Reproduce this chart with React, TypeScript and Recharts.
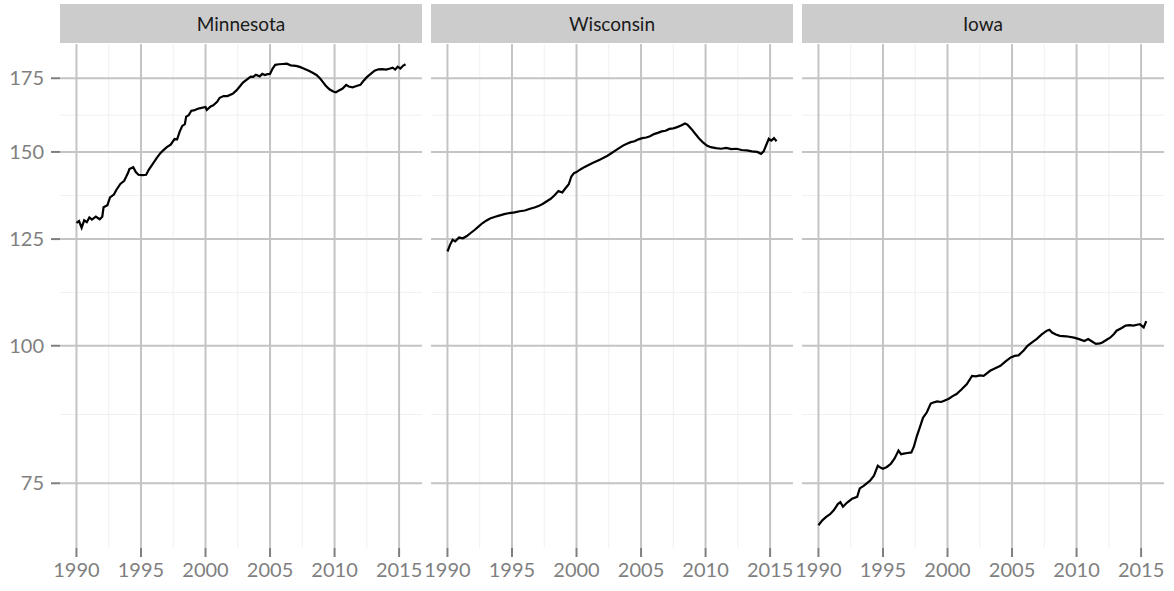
import React from "react";
import { LineChart, Line, XAxis, YAxis, ReferenceLine } from "recharts";

// values (employment index, log y scale)
const mnYears = [
  1990.0, 1990.2, 1990.4, 1990.6, 1990.8, 1991.0, 1991.2, 1991.5, 1991.8, 1992.0, 1992.1, 1992.4, 1992.6, 1992.9,
  1993.1, 1993.4, 1993.7, 1994.0, 1994.1, 1994.4, 1994.6, 1994.8, 1995.1, 1995.4, 1995.6, 1995.9, 1996.2, 1996.5,
  1996.7, 1997.0, 1997.3, 1997.6, 1997.8, 1998.0, 1998.2, 1998.4, 1998.5, 1998.7, 1998.9, 1999.1, 1999.4, 1999.7,
  2000.0, 2000.1, 2000.4, 2000.6, 2000.9, 2001.1, 2001.4, 2001.7, 2002.1, 2002.4, 2002.7, 2002.9, 2003.2, 2003.5,
  2003.7, 2003.9, 2004.2, 2004.4, 2004.6, 2004.8, 2005.0, 2005.2, 2005.4, 2005.7, 2006.0, 2006.3, 2006.6, 2007.0,
  2007.3, 2007.6, 2008.0, 2008.3, 2008.6, 2008.9, 2009.1, 2009.3, 2009.6, 2009.9, 2010.1, 2010.3, 2010.6, 2010.9,
  2011.1, 2011.4, 2011.7, 2012.0, 2012.2, 2012.5, 2012.8, 2013.1, 2013.4, 2013.7, 2014.0, 2014.3, 2014.5, 2014.7,
  2014.9, 2015.1, 2015.3, 2015.5,
];
const mnValues = [
  129.3, 129.8, 128.0, 130.0, 129.5, 130.8, 130.2, 131.0, 130.3, 131.0, 133.6, 134.2, 136.4, 137.2,
  138.6, 140.3, 141.2, 143.6, 144.7, 145.3, 143.8, 143.0, 142.9, 143.0, 144.5, 146.2, 148.0, 149.6,
  150.4, 151.5, 152.3, 154.1, 154.0, 156.5, 158.4, 159.0, 161.5, 162.0, 163.5, 163.6, 164.2, 164.5,
  164.8, 163.8, 165.0, 165.4, 166.6, 168.0, 168.6, 168.6, 169.4, 170.6, 172.3, 173.4, 174.5, 175.6,
  175.5, 176.3, 175.7, 176.6, 176.2, 176.5, 176.6, 178.6, 180.0, 180.2, 180.3, 180.4, 179.8, 179.6,
  179.2, 178.6, 177.8, 177.0, 176.2, 174.8, 173.6, 172.4, 171.0, 170.2, 169.9, 170.5, 171.2, 172.6,
  172.0, 171.7, 172.2, 172.6, 173.8, 175.4, 176.6, 177.8, 178.3, 178.4, 178.2, 178.6, 178.9, 178.2,
  179.3, 178.6, 179.6, 180.2,
];

const wiYears = [
  1990.0, 1990.2, 1990.4, 1990.6, 1990.9, 1991.2, 1991.5, 1991.8, 1992.1, 1992.4, 1992.7, 1993.0, 1993.3, 1993.7,
  1994.0, 1994.4, 1994.8, 1995.2, 1995.6, 1996.0, 1996.4, 1996.8, 1997.1, 1997.4, 1997.7, 1998.0, 1998.3, 1998.6,
  1998.9, 1999.1, 1999.4, 1999.6, 1999.8, 2000.0, 2000.3, 2000.6, 2000.9, 2001.2, 2001.5, 2001.8, 2002.1, 2002.4,
  2002.7, 2003.0, 2003.3, 2003.6, 2003.9, 2004.2, 2004.5, 2004.8, 2005.1, 2005.4, 2005.7, 2006.0, 2006.3, 2006.6,
  2006.9, 2007.2, 2007.5, 2007.8, 2008.1, 2008.4, 2008.6, 2008.9, 2009.2, 2009.5, 2009.8, 2010.1, 2010.4, 2010.8,
  2011.2, 2011.6, 2012.0, 2012.4, 2012.8, 2013.2, 2013.6, 2014.0, 2014.3, 2014.5, 2014.7, 2014.9, 2015.1, 2015.3,
  2015.5,
];
const wiValues = [
  121.8, 123.5, 124.8, 124.4, 125.4, 125.2, 125.8, 126.6, 127.4, 128.3, 129.2, 129.9, 130.5, 131.0,
  131.3, 131.7, 132.0, 132.2, 132.5, 132.7, 133.2, 133.6, 134.0, 134.6, 135.3, 136.0, 137.0, 138.2,
  137.8, 138.8, 140.2, 142.5, 143.5, 143.8, 144.6, 145.3, 145.9, 146.5, 147.0, 147.6, 148.2, 148.8,
  149.6, 150.4, 151.2, 152.0, 152.6, 153.1, 153.4, 154.0, 154.4, 154.6, 155.0, 155.7, 156.1, 156.6,
  156.8, 157.4, 157.6, 158.0, 158.5, 159.2, 158.8, 157.4, 155.8, 154.3, 153.0, 152.0, 151.5, 151.2,
  151.0, 151.3, 150.9, 151.0, 150.6, 150.5, 150.2, 150.0, 149.4, 150.2, 152.2, 154.2, 153.6, 154.4,
  153.4,
];

const iaYears = [
  1990.0, 1990.3, 1990.6, 1990.9, 1991.2, 1991.5, 1991.7, 1991.9, 1992.2, 1992.6, 1993.0, 1993.2, 1993.5, 1994.0,
  1994.3, 1994.6, 1994.8, 1995.0, 1995.3, 1995.6, 1995.9, 1996.2, 1996.4, 1996.6, 1996.9, 1997.2, 1997.4, 1997.6,
  1997.9, 1998.1, 1998.4, 1998.7, 1998.9, 1999.2, 1999.5, 1999.7, 2000.1, 2000.4, 2000.7, 2001.1, 2001.5, 2001.9,
  2002.2, 2002.5, 2002.8, 2003.3, 2003.7, 2004.1, 2004.5, 2004.9, 2005.2, 2005.5, 2005.9, 2006.2, 2006.6, 2006.9,
  2007.3, 2007.7, 2007.9, 2008.1, 2008.4, 2008.7, 2009.2, 2009.8, 2010.2, 2010.6, 2010.9, 2011.2, 2011.5, 2011.8,
  2012.0, 2012.3, 2012.6, 2012.9, 2013.1, 2013.5, 2013.8, 2014.1, 2014.4, 2014.7, 2014.9, 2015.2, 2015.4,
];
const iaValues = [
  68.7, 69.4, 69.9, 70.3, 70.9, 71.8, 72.1, 71.4, 72.0, 72.6, 72.9, 74.2, 74.6, 75.4,
  76.2, 77.8, 77.5, 77.3, 77.6, 78.1, 79.0, 80.3, 79.7, 79.8, 79.9, 80.0, 81.0, 82.6,
  84.6, 86.0, 87.0, 88.6, 88.8, 89.0, 88.9, 89.1, 89.5, 90.0, 90.4, 91.3, 92.3, 93.9,
  93.8, 94.0, 93.9, 94.9, 95.4, 95.9, 96.8, 97.6, 97.9, 98.0, 99.0, 100.0, 100.8, 101.4,
  102.4, 103.2, 103.4, 102.8, 102.4, 102.1, 102.0, 101.7, 101.4, 101.0, 101.4, 100.9, 100.4, 100.5,
  100.7, 101.2, 101.7, 102.5, 103.2, 103.8, 104.3, 104.4, 104.3, 104.5, 104.6, 103.9, 105.3,
];

const states = ["Minnesota", "Wisconsin", "Iowa"];
const xTicks = [1990, 1995, 2000, 2005, 2010, 2015];
const xMinor = [1992.5, 1997.5, 2002.5, 2007.5, 2012.5];
const yTicks = [75, 100, 125, 150, 175];
const yMinor = [86.6, 111.8, 136.9, 162.0];

const toRows = (years: number[], values: number[]) => years.map((year, i) => ({ year, value: values[i] }));
const series = [toRows(mnYears, mnValues), toRows(wiYears, wiValues), toRows(iaYears, iaValues)];

const PANEL_W = 362;
const PANEL_H = 504;
const PANEL_TOP = 44;
const Y_AXIS_W = 60;
const PAD = 24; // room so edge tick labels aren't clipped by the svg
const panelLefts = [60, 431, 802];

const Panel = ({ index }: { index: number }) => {
  const showY = index === 0;
  const left = panelLefts[index] - (showY ? Y_AXIS_W : PAD);
  return (
    <>
      <div
        style={{
          position: "absolute",
          left: panelLefts[index],
          top: 4,
          width: PANEL_W,
          height: 39,
          background: "#cccccc",
          color: "#1a1a1a",
          fontSize: 19,
          lineHeight: "39px",
          textAlign: "center",
        }}
      >
        {states[index]}
      </div>
      <div style={{ position: "absolute", left, top: PANEL_TOP }}>
        <LineChart
          width={PANEL_W + (showY ? Y_AXIS_W : PAD) + PAD}
          height={PANEL_H + 43}
          data={series[index]}
          margin={{ top: 0, right: PAD, bottom: 0, left: showY ? 0 : PAD }}
        >
          <XAxis
            dataKey="year"
            type="number"
            domain={[1988.725, 2016.775]}
            allowDataOverflow
            ticks={xTicks}
            interval={0}
            height={43}
            axisLine={false}
            tickSize={9}
            tickMargin={6}
            tickLine={{ stroke: "#7f7f7f", strokeWidth: 2 }}
            tick={{ fill: "#7f7f7f", fontSize: 20 }}
          />
          <YAxis
            type="number"
            scale="log"
            domain={[65.5, 188]}
            allowDataOverflow
            ticks={yTicks}
            interval={0}
            hide={!showY}
            width={Y_AXIS_W}
            axisLine={false}
            tickSize={9}
            tickMargin={7}
            tickLine={{ stroke: "#7f7f7f", strokeWidth: 2 }}
            tick={{ fill: "#7f7f7f", fontSize: 20 }}
          />
          {yMinor.map((v) => (
            <ReferenceLine key={`ym${v}`} y={v} stroke="#f0f0f0" strokeWidth={1} />
          ))}
          {xMinor.map((v) => (
            <ReferenceLine key={`xm${v}`} x={v} stroke="#f0f0f0" strokeWidth={1} />
          ))}
          {yTicks.map((v) => (
            <ReferenceLine key={`y${v}`} y={v} stroke="#c4c4c4" strokeWidth={2} />
          ))}
          {xTicks.map((v) => (
            <ReferenceLine key={`x${v}`} x={v} stroke="#c4c4c4" strokeWidth={2} />
          ))}
          <Line
            type="linear"
            dataKey="value"
            stroke="#000000"
            strokeWidth={2.2}
            dot={false}
            isAnimationActive={false}
          />
        </LineChart>
      </div>
    </>
  );
};

export default function App() {
  return (
    <div
      style={{
        position: "absolute",
        left: 0,
        top: 0,
        width: 1174,
        height: 591,
        background: "#ffffff",
        fontFamily: "Lato, 'Noto Sans', sans-serif",
        overflow: "hidden",
      }}
    >
      {states.map((_, i) => (
        <Panel key={i} index={i} />
      ))}
    </div>
  );
}
